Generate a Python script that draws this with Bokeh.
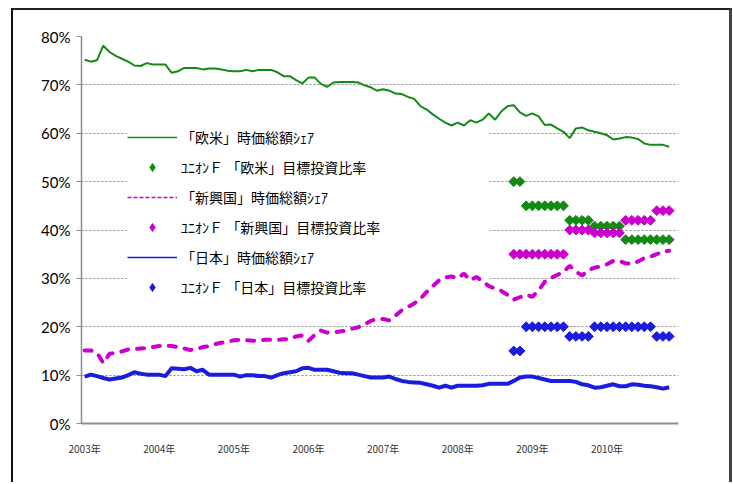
import math
from bokeh.plotting import figure
from bokeh.models import Legend, LegendItem, FixedTicker, PrintfTickFormatter, Range1d, BoxAnnotation
from bokeh.embed import file_html
from bokeh.resources import INLINE

# ---- data (monthly, Jan 2003 = month 0) ----
year_labels = ["2003年", "2004年", "2005年", "2006年", "2007年", "2008年", "2009年", "2010年"]
year_ticks = [0, 12, 24, 36, 48, 60, 72, 84]

west_share = [75.2, 74.8, 75.1, 78.1, 76.8, 76.0, 75.4, 74.8, 74.0, 73.9, 74.5, 74.2,
              74.2, 74.2, 72.5, 72.8, 73.5, 73.5, 73.5, 73.2, 73.4, 73.4, 73.2, 72.9,
              72.8, 72.8, 73.1, 72.8, 73.1, 73.1, 73.1, 72.6, 71.8, 71.8, 71.0, 70.3,
              71.5, 71.5, 70.2, 69.6, 70.5, 70.6, 70.6, 70.6, 70.5, 69.9, 69.5, 68.8,
              69.1, 68.8, 68.2, 68.1, 67.5, 67.1, 65.6, 64.9, 63.9, 63.0, 62.2, 61.6,
              62.2, 61.6, 62.7, 62.2, 62.8, 64.1, 62.8, 64.5, 65.6, 65.8, 64.3, 63.6,
              64.1, 63.5, 61.7, 61.8, 61.0, 60.3, 59.0, 61.0, 61.2, 60.6, 60.3, 60.0,
              59.6, 58.7, 58.9, 59.2, 59.1, 58.8, 57.9, 57.6, 57.6, 57.6, 57.2]

emerging_share = [15.1, 15.1, 14.6, 12.5, 14.4, 14.6, 14.9, 15.3, 15.4, 15.5, 15.6, 15.8,
                  16.0, 16.1, 16.0, 15.8, 15.5, 15.2, 15.4, 15.8, 16.0, 16.4, 16.7, 16.9,
                  17.2, 17.3, 17.2, 17.1, 17.2, 17.3, 17.3, 17.3, 17.4, 17.5, 18.0, 18.2,
                  17.1, 18.3, 19.2, 18.8, 18.8, 19.0, 19.2, 19.6, 19.9, 20.5, 21.2, 21.6,
                  21.6, 21.3, 22.3, 23.4, 24.1, 24.8, 25.8, 27.2, 28.4, 29.6, 30.2, 30.4,
                  30.0, 31.0, 29.6, 30.3, 29.4, 28.4, 27.9, 27.4, 26.6, 25.6, 26.1, 26.6,
                  26.2, 27.5, 29.3, 30.1, 30.7, 31.3, 32.6, 31.4, 30.6, 31.7, 32.2, 32.5,
                  32.9, 33.6, 33.6, 33.1, 33.0, 33.5, 34.2, 34.5, 35.0, 35.6, 35.7]

japan_share = [9.7, 10.1, 9.8, 9.4, 9.1, 9.3, 9.5, 10.0, 10.6, 10.3, 10.1, 10.1,
               10.1, 9.8, 11.4, 11.3, 11.2, 11.5, 10.8, 11.1, 10.1, 10.1, 10.1, 10.1,
               10.1, 9.7, 10.0, 10.0, 9.8, 9.8, 9.5, 10.0, 10.4, 10.6, 10.8, 11.4,
               11.5, 11.1, 11.1, 11.1, 10.8, 10.5, 10.4, 10.4, 10.1, 9.8, 9.5, 9.5,
               9.5, 9.7, 9.2, 8.8, 8.6, 8.5, 8.4, 8.1, 7.8, 7.4, 7.8, 7.4,
               7.8, 7.8, 7.8, 7.8, 7.9, 8.2, 8.2, 8.2, 8.2, 8.8, 9.5, 9.7,
               9.7, 9.4, 9.1, 8.8, 8.8, 8.8, 8.8, 8.6, 8.1, 7.9, 7.4, 7.5,
               7.8, 8.1, 7.7, 7.7, 8.1, 8.0, 7.8, 7.7, 7.5, 7.2, 7.5]

target_months = list(range(69, 95))
west_target = [50, 50] + [45] * 7 + [42] * 4 + [40.8] * 5 + [38] * 8
emerging_target = [35] * 9 + [40] * 4 + [39.4] * 5 + [42] * 5 + [44] * 3
japan_target = [15, 15] + [20] * 7 + [18] * 4 + [20] * 10 + [18] * 3

labels = ["「欧米」時価総額ｼｪｱ", "ﾕﾆｵﾝＦ 「欧米」目標投資比率",
          "「新興国」時価総額ｼｪｱ", "ﾕﾆｵﾝＦ 「新興国」目標投資比率",
          "「日本」時価総額ｼｪｱ", "ﾕﾆｵﾝＦ 「日本」目標投資比率"]

GREEN = "#138a13"
MAGENTA = "#cc00cc"
BLUE = "#1c1cdc"

months = list(range(len(west_share)))

p = figure(width=721, height=474, output_backend="svg", toolbar_location=None,
           x_range=Range1d(-0.5, 95.5), y_range=Range1d(0, 80),
           min_border_left=68, min_border_right=56, min_border_top=26, min_border_bottom=61,
           margin=(8, 0, 0, 11),
           styles={"border-top": "2px solid #222", "border-left": "2px solid #111",
                   "border-right": "3px solid #444"})
p.outline_line_color = None
p.background_fill_color = "white"
p.border_fill_color = "white"

# white legend panel hiding the gridlines behind the legend (screen units, canvas-relative)
panel = BoxAnnotation(left=84, right=408, top=100, bottom=324,
                      left_units="screen", right_units="screen", top_units="screen", bottom_units="screen",
                      fill_color="white", fill_alpha=1, line_color=None, level="underlay",
                      editable=False)
p.add_layout(panel)

# lines
p.line(months, west_share, line_color=GREEN, line_width=2)
p.line(months, emerging_share, line_color=MAGENTA, line_width=4, line_dash="7 9", line_cap="round")
p.line(months, japan_share, line_color=BLUE, line_width=4, line_join="round")

# targets
ang = math.pi / 4
p.scatter(target_months, west_target, marker="square", size=7, angle=ang,
          fill_color=GREEN, line_color=GREEN)
p.scatter(target_months, emerging_target, marker="square", size=7, angle=ang,
          fill_color=MAGENTA, line_color=MAGENTA)
p.scatter(target_months, japan_target, marker="square", size=7, angle=ang,
          fill_color=BLUE, line_color=BLUE)

# legend proxies (thin samples like the original); NaN keeps them out of the plot area
nan = float("nan")
lg1 = p.line(x=[nan], y=[nan], line_color=GREEN, line_width=1.5)
lg2 = p.scatter(x=[nan], y=[nan], marker="diamond", size=11, fill_color=GREEN, line_color=GREEN)
lg3 = p.line(x=[nan], y=[nan], line_color=MAGENTA, line_width=1.5, line_dash="4 2")
lg4 = p.scatter(x=[nan], y=[nan], marker="diamond", size=11, fill_color=MAGENTA, line_color=MAGENTA)
lg5 = p.line(x=[nan], y=[nan], line_color=BLUE, line_width=1.5)
lg6 = p.scatter(x=[nan], y=[nan], marker="diamond", size=11, fill_color=BLUE, line_color=BLUE)

items = [LegendItem(label=l, renderers=[r], index=0) for l, r in zip(labels, [lg1, lg2, lg3, lg4, lg5, lg6])]
legend = Legend(items=items, location=(46, 126), background_fill_color="white", background_fill_alpha=1,
                border_line_color=None, padding=30, margin=0, spacing=10,
                glyph_width=50, glyph_height=20, label_height=20, label_standoff=4,
                label_text_font="Noto Sans CJK JP", label_text_font_size="14px",
                label_text_color="black")
p.add_layout(legend)

# axes
p.yaxis.ticker = FixedTicker(ticks=list(range(0, 81, 10)))
p.yaxis.formatter = PrintfTickFormatter(format="%d%%")
p.yaxis.major_label_text_font = "Lato"
p.yaxis.major_label_text_font_size = "15px"
p.yaxis.major_label_text_color = "black"
p.yaxis.major_label_standoff = 6
p.yaxis.major_tick_out = 5
p.yaxis.major_tick_in = 0
p.yaxis.minor_tick_out = 0
p.yaxis.minor_tick_in = 0
p.yaxis.major_tick_line_color = "#8c8c8c"
p.yaxis.axis_line_color = "#8c8c8c"
p.yaxis.axis_line_width = 1.5

p.xaxis.ticker = FixedTicker(ticks=year_ticks)
p.xaxis.major_label_overrides = {t: l for t, l in zip(year_ticks, year_labels)}
p.xaxis.major_label_text_font = "Noto Sans CJK JP"
p.xaxis.major_label_text_font_size = "10px"
p.xaxis.major_label_text_color = "#333333"
p.xaxis.major_label_standoff = 17
p.xaxis.major_tick_out = 0
p.xaxis.major_tick_in = 0
p.xaxis.minor_tick_out = 0
p.xaxis.minor_tick_in = 0
p.xaxis.axis_line_color = "#8c8c8c"
p.xaxis.axis_line_width = 2

p.xgrid.grid_line_color = None
p.ygrid.ticker = FixedTicker(ticks=list(range(10, 81, 10)))
p.ygrid.grid_line_color = "#8a8a8a"
p.ygrid.grid_line_dash = "2 2"
p.ygrid.grid_line_width = 1

open("out.html", "w").write(file_html(p, INLINE))
